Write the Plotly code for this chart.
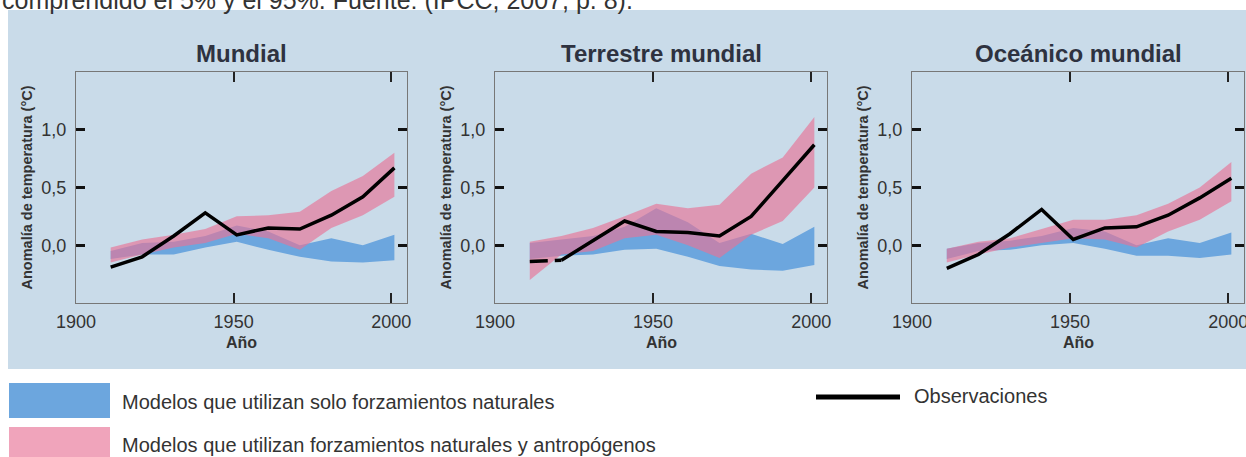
import plotly.graph_objects as go

# ---------------- data ----------------
years = [1911, 1921, 1931, 1941, 1951, 1961, 1971, 1981, 1991, 2001]

panel_titles = ["Mundial", "Terrestre mundial", "Oceánico mundial"]

mundial_obs = [-0.19, -0.10, 0.08, 0.28, 0.09, 0.15, 0.14, 0.26, 0.42, 0.67]
mundial_anthro_low = [-0.15, -0.08, -0.02, 0.02, 0.10, 0.06, -0.04, 0.15, 0.26, 0.42]
mundial_anthro_high = [-0.02, 0.05, 0.09, 0.14, 0.25, 0.26, 0.29, 0.47, 0.60, 0.80]
mundial_nat_low = [-0.12, -0.08, -0.08, -0.02, 0.03, -0.04, -0.10, -0.14, -0.15, -0.13]
mundial_nat_high = [-0.05, 0.02, 0.03, 0.08, 0.17, 0.12, 0.00, 0.06, 0.00, 0.09]

terr_obs = [-0.14, -0.13, 0.04, 0.21, 0.12, 0.11, 0.08, 0.25, 0.56, 0.87]
terr_anthro_low = [-0.30, -0.08, -0.05, 0.06, 0.09, 0.00, -0.11, 0.09, 0.21, 0.50]
terr_anthro_high = [0.03, 0.08, 0.15, 0.25, 0.36, 0.32, 0.35, 0.62, 0.76, 1.11]
terr_nat_low = [-0.12, -0.09, -0.08, -0.04, -0.03, -0.10, -0.18, -0.21, -0.22, -0.17]
terr_nat_high = [0.02, 0.05, 0.08, 0.16, 0.32, 0.20, 0.02, 0.10, 0.01, 0.16]

oce_obs = [-0.20, -0.08, 0.10, 0.31, 0.05, 0.15, 0.16, 0.26, 0.41, 0.58]
oce_anthro_low = [-0.15, -0.08, -0.02, 0.02, 0.06, 0.05, -0.02, 0.12, 0.22, 0.38]
oce_anthro_high = [-0.03, 0.03, 0.06, 0.14, 0.22, 0.22, 0.26, 0.36, 0.50, 0.72]
oce_nat_low = [-0.12, -0.05, -0.04, 0.00, 0.02, -0.03, -0.09, -0.09, -0.11, -0.08]
oce_nat_high = [-0.03, 0.02, 0.04, 0.08, 0.15, 0.12, 0.00, 0.06, 0.02, 0.11]

x_ticks = [1900, 1950, 2000]
y_ticks = [0.0, 0.5, 1.0]

caption = "comprendido el 5% y el 95%. Fuente: (IPCC, 2007, p. 8)."
x_title = "Año"
y_title = "Anomalía de temperatura (°C)"
legend_labels = ["Modelos que utilizan solo forzamientos naturales",
                 "Modelos que utilizan forzamientos naturales y antropógenos",
                 "Observaciones"]

panels = [
    (mundial_obs, mundial_anthro_low, mundial_anthro_high, mundial_nat_low, mundial_nat_high),
    (terr_obs, terr_anthro_low, terr_anthro_high, terr_nat_low, terr_nat_high),
    (oce_obs, oce_anthro_low, oce_anthro_high, oce_nat_low, oce_nat_high),
]
# number of leading points drawn dashed (incomplete coverage) per panel
dashed_lead = [0, 2, 0]

# ---------------- style ----------------
W, H = 1246, 457
BLUE = "rgb(108,166,222)"
PINK = "rgba(232,115,150,0.65)"
PINK_SOLID = "rgb(240,164,187)"
PANEL_BG = "rgb(201,219,233)"
TXT = "#333333"
FONT = "Liberation Sans, Arial, sans-serif"

x_domains = [(76 / W, 407 / W), (495 / W, 827 / W), (912 / W, 1244 / W)]
y_domain = (1 - 303 / H, 1 - 72 / H)

fig = go.Figure()

for i, (obs, alo, ahi, nlo, nhi) in enumerate(panels):
    xa = "x" if i == 0 else f"x{i+1}"
    ya = "y" if i == 0 else f"y{i+1}"
    poly_x = years + years[::-1]
    fig.add_trace(go.Scatter(x=poly_x, y=nhi + nlo[::-1], fill="toself", fillcolor=BLUE,
                             line=dict(width=0), mode="lines", hoverinfo="skip",
                             showlegend=False, xaxis=xa, yaxis=ya))
    fig.add_trace(go.Scatter(x=poly_x, y=ahi + alo[::-1], fill="toself", fillcolor=PINK,
                             line=dict(width=0), mode="lines", hoverinfo="skip",
                             showlegend=False, xaxis=xa, yaxis=ya))
    k = dashed_lead[i]
    if k > 0:
        fig.add_trace(go.Scatter(x=years[:k], y=obs[:k], mode="lines",
                                 line=dict(color="black", width=3.5, dash="18px,7px,30px"),
                                 showlegend=False, xaxis=xa, yaxis=ya))
        fig.add_trace(go.Scatter(x=years[k - 1:], y=obs[k - 1:], mode="lines",
                                 line=dict(color="black", width=3.5),
                                 showlegend=False, xaxis=xa, yaxis=ya))
    else:
        fig.add_trace(go.Scatter(x=years, y=obs, mode="lines",
                                 line=dict(color="black", width=3.5),
                                 showlegend=False, xaxis=xa, yaxis=ya))

layout = dict(
    width=W, height=H, autosize=False,
    margin=dict(l=0, r=0, t=0, b=0),
    paper_bgcolor="white", plot_bgcolor="white",
    separators=",.",
    font=dict(family=FONT, color=TXT),
    showlegend=False,
)

for i in range(3):
    sx = "" if i == 0 else str(i + 1)
    layout[f"xaxis{sx}"] = dict(
        domain=list(x_domains[i]), range=[1900, 2005], anchor=f"y{sx}",
        tickvals=x_ticks, ticks="inside", ticklen=10, tickwidth=1.5, tickcolor="#222",
        showline=True, linecolor="#777", linewidth=1, mirror="ticks",
        showgrid=False, zeroline=False, automargin=False, ticklabelstandoff=2,
        ticklabeloverflow="allow",
        tickfont=dict(size=18, color=TXT, family=FONT),
    )
    layout[f"yaxis{sx}"] = dict(
        domain=list(y_domain), range=[-0.5, 1.5], anchor=f"x{sx}",
        tickvals=y_ticks, tickformat=".1f", ticks="inside", ticklen=9, tickwidth=3,
        tickcolor="#111", showline=True, linecolor="#777", linewidth=1, mirror="ticks",
        showgrid=False, zeroline=False, automargin=False, ticklabelstandoff=5,
        tickfont=dict(size=18, color=TXT, family=FONT),
    )

fig.update_layout(**layout)

shapes = []
# light-blue panel background
shapes.append(dict(type="rect", xref="paper", yref="paper", x0=8 / W, x1=1.0,
                   y0=1 - 369 / H, y1=1 - 10 / H, fillcolor=PANEL_BG,
                   line=dict(width=0), layer="below"))
# legend swatches
shapes.append(dict(type="rect", xref="paper", yref="paper", x0=9 / W, x1=110 / W,
                   y0=1 - 418 / H, y1=1 - 383 / H, fillcolor=BLUE, line=dict(width=0)))
shapes.append(dict(type="rect", xref="paper", yref="paper", x0=9 / W, x1=110 / W,
                   y0=0, y1=1 - 427 / H, fillcolor=PINK_SOLID, line=dict(width=0)))
shapes.append(dict(type="line", xref="paper", yref="paper", x0=816 / W, x1=900 / W,
                   y0=1 - 397 / H, y1=1 - 397 / H, line=dict(color="black", width=5)))

annotations = []
annotations.append(dict(text=caption, xref="paper", yref="paper", x=0, y=1 - 16 / H,
                        xanchor="left", yanchor="bottom", showarrow=False,
                        font=dict(size=25, color=TXT, family=FONT)))
for i, t in enumerate(panel_titles):
    sx = "" if i == 0 else str(i + 1)
    annotations.append(dict(text=f"<b>{t}</b>", xref=f"x{sx} domain", yref="paper",
                            x=0.5, y=1 - 53 / H, xanchor="center", yanchor="middle",
                            showarrow=False, font=dict(size=24, color="#2e3240", family=FONT)))
    annotations.append(dict(text=f"<b>{x_title}</b>", xref=f"x{sx} domain", yref="paper",
                            x=0.5, y=1 - 342 / H, xanchor="center", yanchor="middle",
                            showarrow=False, font=dict(size=16, color=TXT, family=FONT)))
    annotations.append(dict(text=f"<b>{y_title}</b>", xref=f"x{sx} domain",
                            yref=f"y{sx} domain", x=0, xshift=-50, y=0.5,
                            xanchor="center", yanchor="middle", textangle=-90,
                            showarrow=False, font=dict(size=14.5, color=TXT, family=FONT)))

annotations.append(dict(text=legend_labels[0], xref="paper", yref="paper", x=120 / W,
                        y=1 - 402 / H, xanchor="left", yanchor="middle", showarrow=False,
                        font=dict(size=20, color=TXT, family=FONT)))
annotations.append(dict(text=legend_labels[1], xref="paper", yref="paper", x=120 / W,
                        y=1 - 445 / H, xanchor="left", yanchor="middle", showarrow=False,
                        font=dict(size=20, color=TXT, family=FONT)))
annotations.append(dict(text=legend_labels[2], xref="paper", yref="paper", x=912 / W,
                        y=1 - 396 / H, xanchor="left", yanchor="middle", showarrow=False,
                        font=dict(size=20, color=TXT, family=FONT)))

fig.update_layout(shapes=shapes, annotations=annotations)

fig.write_html("out.html",
               config={"displayModeBar": False},
               post_script="document.body.style.margin='0px';document.body.style.padding='0px';")
